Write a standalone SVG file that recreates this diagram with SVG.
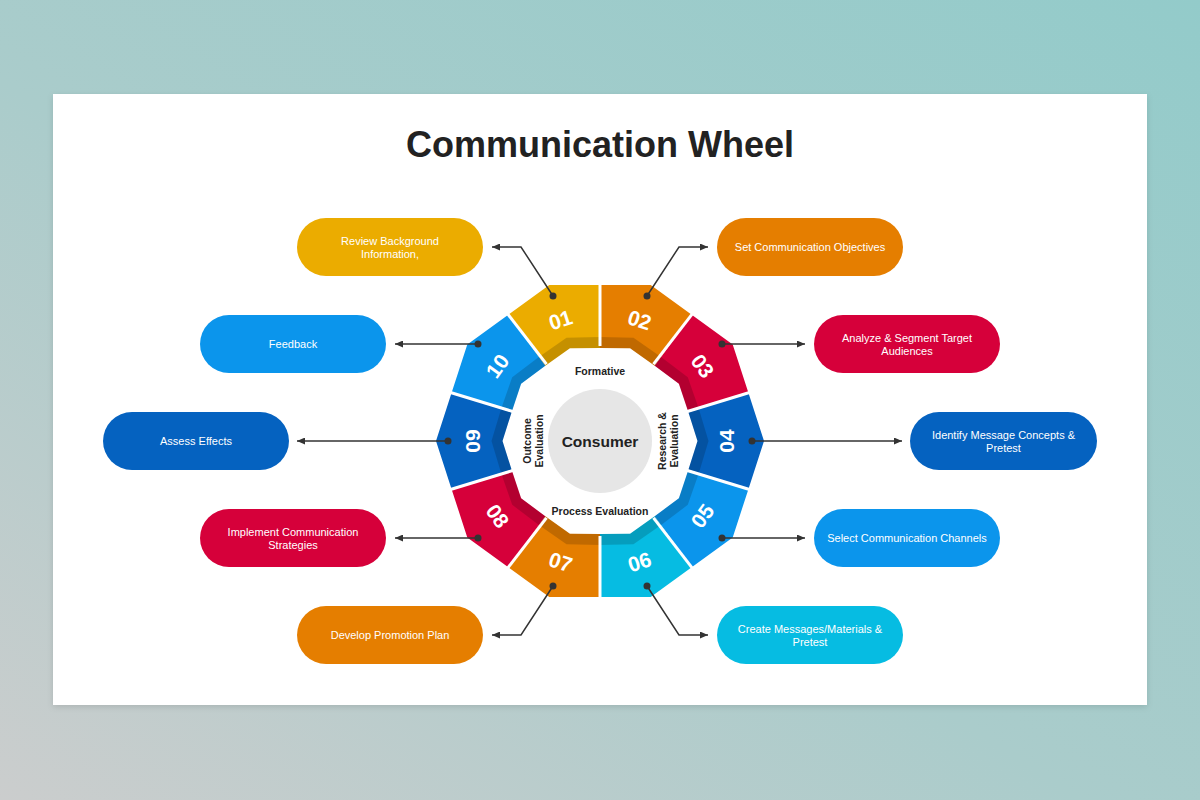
<svg xmlns="http://www.w3.org/2000/svg" width="1200" height="800" viewBox="0 0 1200 800">
  <defs>
    <linearGradient id="bg" x1="0" y1="1" x2="1" y2="0">
      <stop offset="0" stop-color="#cbcdcd"/>
      <stop offset="0.45" stop-color="#aacccb"/>
      <stop offset="1" stop-color="#93cbca"/>
    </linearGradient>
    <filter id="shadow" x="-5%" y="-5%" width="110%" height="110%">
      <feDropShadow dx="0" dy="2" stdDeviation="3" flood-color="#000" flood-opacity="0.12"/>
    </filter>
    <marker id="arrow" viewBox="0 0 8 7" refX="8" refY="3.5" markerWidth="8" markerHeight="7" markerUnits="userSpaceOnUse" orient="auto">
      <path d="M0,0 L8,3.5 L0,7 z" fill="#333"/>
    </marker>
    <style>
      .title { font-family: "Liberation Sans", Arial, sans-serif; font-weight: bold; font-size: 36px; fill: #222; }
      .num { font-family: "Liberation Sans", Arial, sans-serif; font-weight: bold; font-size: 21px; fill: #fff; text-anchor: middle; }
      .lbl { font-family: "Liberation Sans", Arial, sans-serif; font-size: 11px; fill: #fff; text-anchor: middle; }
      .inner { font-family: "Liberation Sans", Arial, sans-serif; font-weight: bold; font-size: 10.5px; fill: #222; text-anchor: middle; }
      .core { font-family: "Liberation Sans", Arial, sans-serif; font-weight: bold; font-size: 15.5px; fill: #222; text-anchor: middle; }
      .conn { fill: none; stroke: #333; stroke-width: 1.5; }
      .dot { fill: #333; }
      .div { stroke: #fff; stroke-width: 3; }
      .gold { fill: #ebac00; }
      .orange { fill: #e57e00; }
      .red { fill: #d6003a; }
      .dblue { fill: #0562c0; }
      .blue { fill: #0b95ec; }
      .cyan { fill: #06bce2; }
    </style>
  </defs>

  <rect x="0" y="0" width="1200" height="800" fill="url(#bg)"/>
  <rect x="53" y="94" width="1094" height="611" fill="#fff" filter="url(#shadow)"/>

  <text class="title" x="600" y="157" text-anchor="middle">Communication Wheel</text>

  <!-- Wheel segments -->
  <g id="wheel">
    <g id="seg01"><polygon class="gold" points="508.3,314.8 549.3,285 600,285 600,348 569.9,348.3 545.3,365.8"/></g>
    <g id="seg02"><polygon class="orange" points="600,285 650.7,285 691.7,314.8 654.7,365.8 630.1,348.3 600,348"/></g>
    <g id="seg03"><polygon class="red" points="691.7,314.8 732.7,344.6 748.4,392.8 688.4,412.3 678.9,383.7 654.7,365.8"/></g>
    <g id="seg04"><polygon class="dblue" points="748.4,392.8 764,441 748.4,489.2 688.4,469.7 697.5,441 688.4,412.3"/></g>
    <g id="seg05"><polygon class="blue" points="748.4,489.2 732.7,537.4 691.7,567.2 654.7,516.2 678.9,498.3 688.4,469.7"/></g>
    <g id="seg06"><polygon class="cyan" points="691.7,567.2 650.7,597 600,597 600,534 630.1,533.7 654.7,516.2"/></g>
    <g id="seg07"><polygon class="orange" points="600,597 549.3,597 508.3,567.2 545.3,516.2 569.9,533.7 600,534"/></g>
    <g id="seg08"><polygon class="red" points="508.3,567.2 467.3,537.4 451.6,489.2 511.6,469.7 521.1,498.3 545.3,516.2"/></g>
    <g id="seg09"><polygon class="dblue" points="451.6,489.2 436,441 451.6,392.8 511.6,412.3 502.5,441 511.6,469.7"/></g>
    <g id="seg10"><polygon class="blue" points="451.6,392.8 467.3,344.6 508.3,314.8 545.3,365.8 521.1,383.7 511.6,412.3"/></g>

    <!-- inner shading band -->
    <path fill="#000" fill-opacity="0.16" fill-rule="evenodd" d="M600,337 L633.5,337.8 L661.1,356.9 L687.8,377.2 L698.9,408.9 L708.5,441 L698.9,473.1 L687.8,504.8 L661.1,525.1 L633.5,544.2 L600,545 L566.5,544.2 L538.9,525.1 L512.2,504.8 L501.1,473.1 L491.5,441 L501.1,408.9 L512.2,377.2 L538.9,356.9 L566.5,337.8 Z M600,348 L630.1,348.3 L654.7,365.8 L678.9,383.7 L688.4,412.3 L697.5,441 L688.4,469.7 L678.9,498.3 L654.7,516.2 L630.1,533.7 L600,534 L569.9,533.7 L545.3,516.2 L521.1,498.3 L511.6,469.7 L502.5,441 L511.6,412.3 L521.1,383.7 L545.3,365.8 L569.9,348.3 Z"/>

    <!-- white dividers -->
    <g class="div">
      <line x1="600" y1="346" x2="600" y2="283"/>
      <line x1="653.5" y1="364.2" x2="692.9" y2="313.2"/>
      <line x1="686.5" y1="411.7" x2="750.3" y2="392.2"/>
      <line x1="686.5" y1="470.3" x2="750.3" y2="489.8"/>
      <line x1="653.5" y1="517.8" x2="692.9" y2="568.8"/>
      <line x1="600" y1="536" x2="600" y2="599"/>
      <line x1="546.5" y1="517.8" x2="507.1" y2="568.8"/>
      <line x1="513.5" y1="470.3" x2="449.7" y2="489.8"/>
      <line x1="513.5" y1="411.7" x2="449.7" y2="392.2"/>
      <line x1="546.5" y1="364.2" x2="507.1" y2="313.2"/>
    </g>

    <!-- numbers -->
    <text class="num" transform="translate(560.5,320) rotate(-18)" dy="0.35em">01</text>
    <text class="num" transform="translate(639.5,320) rotate(18)" dy="0.35em">02</text>
    <text class="num" transform="translate(702.5,366) rotate(54)" dy="0.35em">03</text>
    <text class="num" transform="translate(727,441) rotate(-90)" dy="0.35em">04</text>
    <text class="num" transform="translate(702.5,516) rotate(-54)" dy="0.35em">05</text>
    <text class="num" transform="translate(639.5,562) rotate(-18)" dy="0.35em">06</text>
    <text class="num" transform="translate(560.5,562) rotate(18)" dy="0.35em">07</text>
    <text class="num" transform="translate(497.5,516) rotate(54)" dy="0.35em">08</text>
    <text class="num" transform="translate(473,441) rotate(-90)" dy="0.35em">09</text>
    <text class="num" transform="translate(497.5,366) rotate(-54)" dy="0.35em">10</text>
  </g>

  <!-- center -->
  <g id="center">
    <circle cx="600" cy="441" r="52" fill="#e6e6e6"/>
    <text class="core" x="600" y="447">Consumer</text>
    <text class="inner" x="600" y="375">Formative</text>
    <text class="inner" x="600" y="515">Process Evaluation</text>
    <g transform="translate(531,441) rotate(-90)">
      <text class="inner" x="0" y="0">Outcome</text>
      <text class="inner" x="0" y="11.5">Evaluation</text>
    </g>
    <g transform="translate(666,441) rotate(-90)">
      <text class="inner" x="0" y="0">Research &amp;</text>
      <text class="inner" x="0" y="11.5">Evaluation</text>
    </g>
  </g>

  <!-- connectors -->
  <g id="connectors">
    <path class="conn" d="M553,296 L521,247 L492,247" marker-end="url(#arrow)"/>
    <path class="conn" d="M647,296 L679,247 L708,247" marker-end="url(#arrow)"/>
    <path class="conn" d="M722,344 L805,344" marker-end="url(#arrow)"/>
    <path class="conn" d="M752,441 L902,441" marker-end="url(#arrow)"/>
    <path class="conn" d="M722,538 L805,538" marker-end="url(#arrow)"/>
    <path class="conn" d="M647,586 L679,635 L708,635" marker-end="url(#arrow)"/>
    <path class="conn" d="M553,586 L521,635 L492,635" marker-end="url(#arrow)"/>
    <path class="conn" d="M478,538 L395,538" marker-end="url(#arrow)"/>
    <path class="conn" d="M448,441 L297,441" marker-end="url(#arrow)"/>
    <path class="conn" d="M478,344 L395,344" marker-end="url(#arrow)"/>
    <circle class="dot" cx="553" cy="296" r="3.5"/>
    <circle class="dot" cx="647" cy="296" r="3.5"/>
    <circle class="dot" cx="722" cy="344" r="3.5"/>
    <circle class="dot" cx="752" cy="441" r="3.5"/>
    <circle class="dot" cx="722" cy="538" r="3.5"/>
    <circle class="dot" cx="647" cy="586" r="3.5"/>
    <circle class="dot" cx="553" cy="586" r="3.5"/>
    <circle class="dot" cx="478" cy="538" r="3.5"/>
    <circle class="dot" cx="448" cy="441" r="3.5"/>
    <circle class="dot" cx="478" cy="344" r="3.5"/>
  </g>

  <!-- label boxes -->
  <g id="box01">
    <rect class="gold" x="297" y="218" width="186" height="58" rx="29"/>
    <text class="lbl" x="390" y="245">Review Background</text>
    <text class="lbl" x="390" y="258">Information,</text>
  </g>
  <g id="box02">
    <rect class="orange" x="717" y="218" width="186" height="58" rx="29"/>
    <text class="lbl" x="810" y="251">Set Communication Objectives</text>
  </g>
  <g id="box03">
    <rect class="red" x="814" y="315" width="186" height="58" rx="29"/>
    <text class="lbl" x="907" y="342">Analyze &amp; Segment Target</text>
    <text class="lbl" x="907" y="355">Audiences</text>
  </g>
  <g id="box04">
    <rect class="dblue" x="910" y="412" width="187" height="58" rx="29"/>
    <text class="lbl" x="1003.5" y="439">Identify Message Concepts &amp;</text>
    <text class="lbl" x="1003.5" y="452">Pretest</text>
  </g>
  <g id="box05">
    <rect class="blue" x="814" y="509" width="186" height="58" rx="29"/>
    <text class="lbl" x="907" y="542">Select Communication Channels</text>
  </g>
  <g id="box06">
    <rect class="cyan" x="717" y="606" width="186" height="58" rx="29"/>
    <text class="lbl" x="810" y="633">Create Messages/Materials &amp;</text>
    <text class="lbl" x="810" y="646">Pretest</text>
  </g>
  <g id="box07">
    <rect class="orange" x="297" y="606" width="186" height="58" rx="29"/>
    <text class="lbl" x="390" y="639">Develop Promotion Plan</text>
  </g>
  <g id="box08">
    <rect class="red" x="200" y="509" width="186" height="58" rx="29"/>
    <text class="lbl" x="293" y="536">Implement Communication</text>
    <text class="lbl" x="293" y="549">Strategies</text>
  </g>
  <g id="box09">
    <rect class="dblue" x="103" y="412" width="186" height="58" rx="29"/>
    <text class="lbl" x="196" y="445">Assess Effects</text>
  </g>
  <g id="box10">
    <rect class="blue" x="200" y="315" width="186" height="58" rx="29"/>
    <text class="lbl" x="293" y="348">Feedback</text>
  </g>
</svg>
